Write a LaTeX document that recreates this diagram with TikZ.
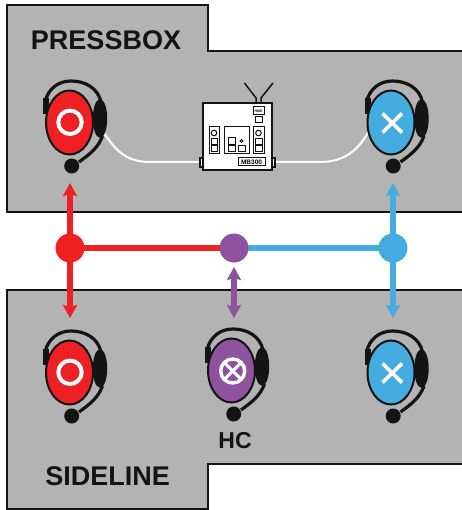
\documentclass[tikz,border=0pt]{standalone}
\usepackage{fontspec}
\setmainfont{Liberation Sans}
\usetikzlibrary{arrows.meta}
\pgfdeclarelayer{hubs}
\pgfsetlayers{main,hubs}
\definecolor{zone}{HTML}{B3B3B3}
\definecolor{cred}{HTML}{ED2024}
\definecolor{cblue}{HTML}{45ACE0}
\definecolor{cpurple}{HTML}{8E529F}
\definecolor{ink}{HTML}{141414}
\tikzset{
  zoneshape/.style={fill=zone,draw=ink,line width=2},
  title/.style={font=\bfseries\fontsize{27}{27}\selectfont,text=ink,inner sep=0},
  hcname/.style={font=\bfseries\fontsize{23}{23}\selectfont,text=ink,inner sep=0},
  hub/.style={circle,minimum size=29,inner sep=0,outer sep=-2,fill=#1},
  link/.style={draw=#1,line width=5.2,{Stealth[length=13,width=14,inset=2]}-{Stealth[length=13,width=14,inset=2]}},
  halflink/.style={draw=#1,line width=5.2,-{Stealth[length=13,width=14,inset=2]}},
  bus/.style={draw=#1,line width=5.6},
  wire/.style={draw=white,line width=2},
  dev/.style={draw=ink,line width=1,fill=none},
  devf/.style={draw=ink,line width=1.5,fill=white},
  headset/.pic={
    \draw[ink,line width=3.2] (-25,-20) .. controls (-22,-33) and (-12,-41) .. (1,-41)
       .. controls (15,-41) and (28,-34) .. (31,-20);
    \fill[ink,draw=ink,line width=1] (-26.5,-23) rectangle (-21.5,-8);
    \draw[ink,line width=3.2] (32.5,14) .. controls (28,26) and (20,32) .. (9,40);
    \path[fill=#1,draw=ink,line width=2] (-0.5,0.5) ellipse [x radius=23.5,y radius=32];
    \path[fill=ink,draw=ink,line width=1.4] (30,-3.5) ellipse [x radius=6.5,y radius=18.5];
    \fill[ink] (1.7,44) circle (7.5);
  },
}
\begin{document}
\begin{tikzpicture}[x=1pt,y=-1pt]
\useasboundingbox (0,0) rectangle (461,510);
\fill[white] (0,0) rectangle (461,510);
% zones
\path[zoneshape] (6.5,5.5) -- (207.5,5.5) -- (207.5,51.5) -- (470,51.5) -- (470,212) -- (6.5,212) -- cycle;
\path[zoneshape] (6.5,289.5) -- (470,289.5) -- (470,464) -- (207.5,464) -- (207.5,508.5) -- (6.5,508.5) -- cycle;
\node[title] (pressbox) at (106,40) {PRESSBOX};
\node[title] (sideline) at (107.7,476) {SIDELINE};
\node[hcname] (hc) at (235,441) {HC};
% device
\coordinate (devL) at (201,162);
\coordinate (devR) at (274,162);
\coordinate (earL) at (102,130);
\coordinate (earR) at (369,131);
\draw[wire] (earL) .. controls (114,148) and (124,162) .. (150,162) -- (devL);
\draw[wire] (devR) -- (320,162) .. controls (345,162) and (358,150) .. (earR);
\draw[ink,line width=1.5] (256,103) -- (256,98) -- (244.5,83);
\draw[ink,line width=1.5] (261,103) -- (261,98) -- (273,83);
\path[devf] (200,158) rectangle (204,167);
\path[devf] (271,158) rectangle (275,167);
\path[devf,line width=1.8] (203,103) rectangle (272,170);
\path[dev] (253,107) rectangle (264,115);
\node[inner sep=0,font=\bfseries\fontsize{3.5}{3.5}\selectfont] (hme) at (258.5,111) {HME};
\path[dev] (255,117) rectangle (262,123);
\path[dev] (209,127) rectangle (219,154);
\path[dev] (214,133) circle (2.8);
\path[dev] (211,139) rectangle (217,145);
\path[dev] (211,146) rectangle (217,152);
\path[dev] (224,127) rectangle (249,154);
\path[dev] (228,138) rectangle (235,145);
\path[dev] (228,146) rectangle (235,152);
\path[dev] (238,146) rectangle (245,152);
\path[dev,line width=.9] (241.5,141) circle (1.6);
\path[dev] (253,127) rectangle (264,154);
\path[dev] (258.5,133) circle (2.8);
\path[dev] (255.5,139) rectangle (262,145);
\path[dev] (255.5,146) rectangle (262,152);
\path[dev] (238,158) rectangle (265,166);
\node[inner sep=0,font=\bfseries\fontsize{6.5}{6.5}\selectfont] (mb) at (251.5,162) {MB300};
% headsets
\pic at (70,122) {headset=cred};
\pic at (391.5,122) {headset=cblue};
\pic at (70,372) {headset=cred};
\pic at (232,370) {headset=cpurple};
\pic at (391.5,372) {headset=cblue};
% symbols
\draw[white,line width=4] (70,122.3) circle (11.7);
\draw[white,line width=4] (70,372.3) circle (11.7);
\draw[white,line width=3.6] (382.5,113.5) -- (402,132.5) (402,113.5) -- (382.5,132.5);
\draw[white,line width=3.6] (382.5,363.5) -- (402,382.5) (402,363.5) -- (382.5,382.5);
\draw[white,line width=3.4] (232.7,371) circle (12);
\draw[white,line width=3] (224.7,363) -- (240.7,379) (240.7,363) -- (224.7,379);
% hubs and links
\begin{pgfonlayer}{hubs}
\node[hub=cred] (hubR) at (70,248) {};
\node[hub=cpurple] (hubP) at (234,248) {};
\node[hub=cblue] (hubB) at (393,248) {};
\end{pgfonlayer}
\coordinate (rU) at (70,183);
\coordinate (rD) at (70,318);
\coordinate (bU) at (393,183);
\coordinate (bD) at (393,318);
\coordinate (pU) at (234,267);
\coordinate (pD) at (234,318);
\draw[bus=cred] (hubR) -- (hubP);
\draw[bus=cblue] (hubP) -- (hubB);
\draw[halflink=cred] (hubR) -- (rU);
\draw[halflink=cred] (hubR) -- (rD);
\draw[halflink=cblue] (hubB) -- (bU);
\draw[halflink=cblue] (hubB) -- (bD);
\draw[link=cpurple] (pU) -- (pD);
\end{tikzpicture}
\end{document}
